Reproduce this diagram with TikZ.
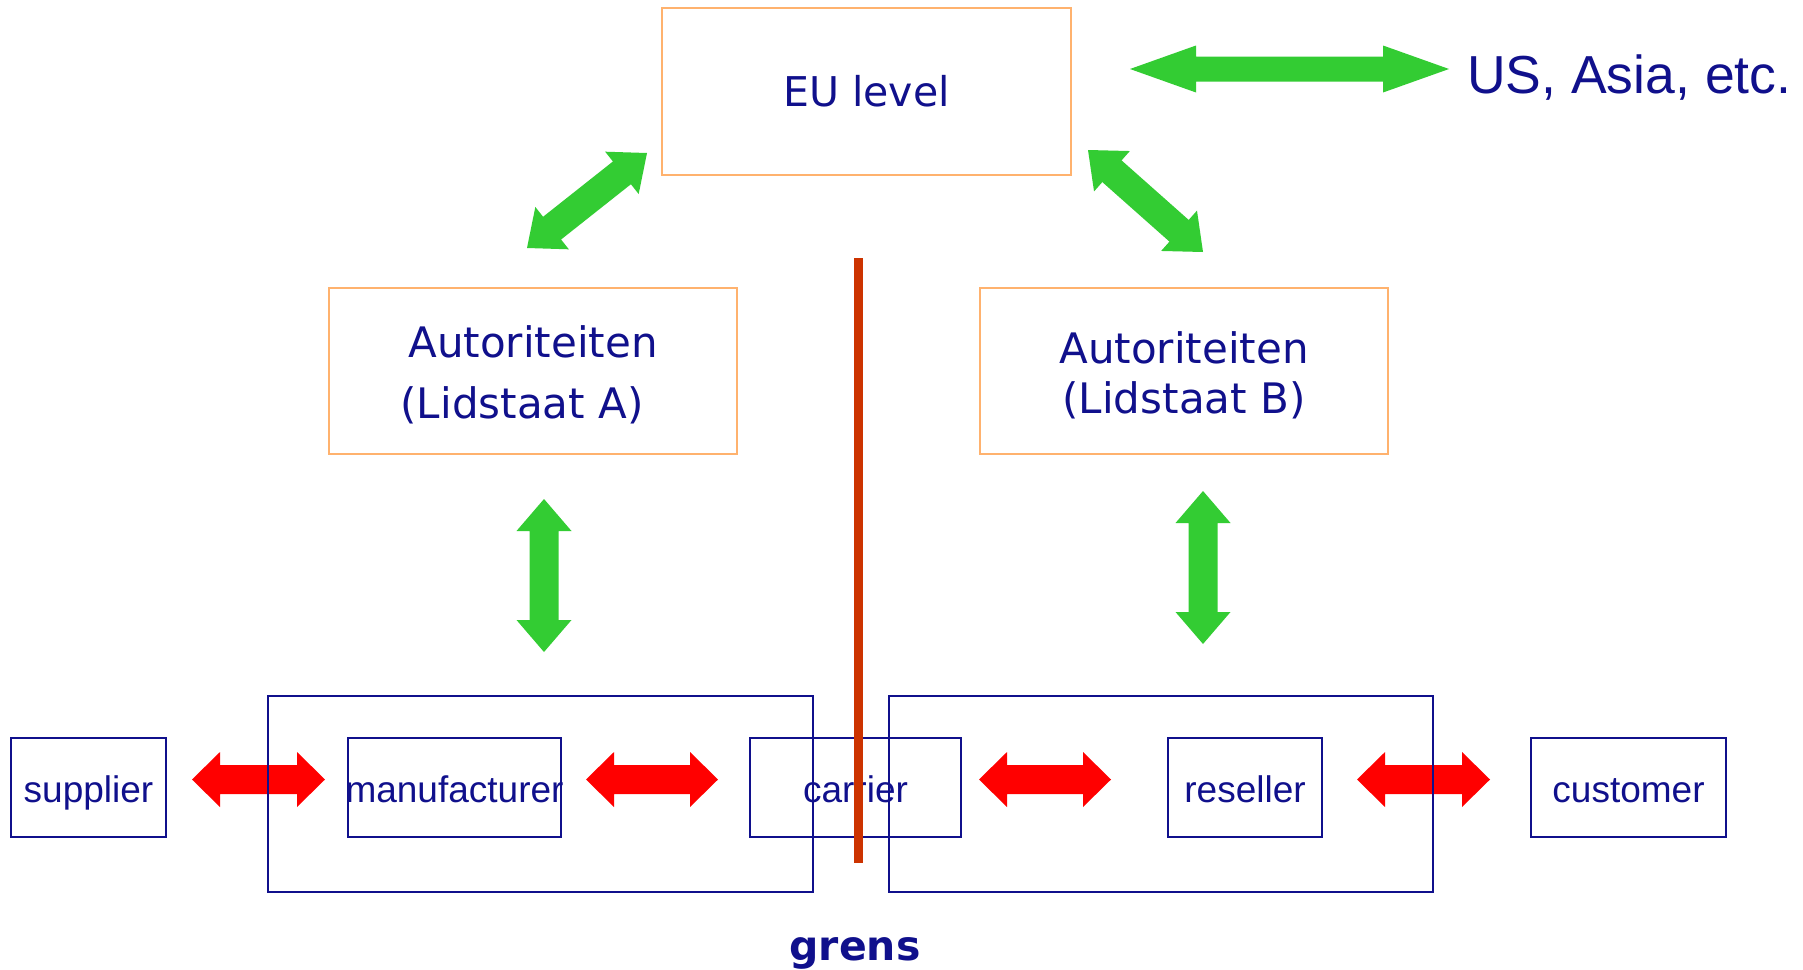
\documentclass[tikz,border=0pt]{standalone}
\usepackage{fontspec}
\setmainfont{Liberation Sans}
\newfontfamily\verdana{DejaVu Sans}
\usetikzlibrary{calc}
\definecolor{navy}{RGB}{16,16,140}
\definecolor{boxorange}{RGB}{255,178,110}
\definecolor{fatgreen}{RGB}{51,204,51}
\definecolor{fatred}{RGB}{255,0,0}
\definecolor{borderline}{RGB}{204,51,0}
% #1 from, #2 to, #3 shaft half width, #4 head half width, #5 head length, #6 colour
\newcommand\fatarrow[6]{%
  \fill[#6] (#1)
    -- ($(#1)!#5!(#2)!#4!90:(#2)$) -- ($(#1)!#5!(#2)!#3!90:(#2)$)
    -- ($(#2)!#5!(#1)!#3!-90:(#1)$) -- ($(#2)!#5!(#1)!#4!-90:(#1)$)
    -- (#2)
    -- ($(#2)!#5!(#1)!#4!90:(#1)$) -- ($(#2)!#5!(#1)!#3!90:(#1)$)
    -- ($(#1)!#5!(#2)!#3!-90:(#2)$) -- ($(#1)!#5!(#2)!#4!-90:(#2)$)
    -- cycle;}
\begin{document}
\begin{tikzpicture}[x=1pt,y=-1pt,
  authbox/.style={draw=boxorange, line width=2.5pt, text=navy,
    font=\verdana\fontsize{42pt}{50pt}\selectfont, align=center, inner sep=0pt},
  actor/.style={draw=navy, line width=2pt, text=navy,
    font=\fontsize{37pt}{44pt}\selectfont, minimum height=99pt, inner sep=0pt,
    text height=29pt, text depth=0pt},
  group/.style={draw=navy, line width=2pt, inner sep=0pt, minimum height=196pt},
  plain/.style={text=navy, inner sep=0pt}
]
\fill[white] (0,0) rectangle (1803,969);
\useasboundingbox (0,0) rectangle (1803,969);

% arrow end points
\coordinate (usA) at (1130,69);  \coordinate (usB) at (1449,69);
\coordinate (dA1) at (527,248);  \coordinate (dA2) at (647,153);
\coordinate (dB1) at (1088,150); \coordinate (dB2) at (1203,252);
\coordinate (vA1) at (544,499);  \coordinate (vA2) at (544,652);
\coordinate (vB1) at (1203,491); \coordinate (vB2) at (1203,644);
\coordinate (r1a) at (192,779.5);  \coordinate (r1b) at (325,779.5);
\coordinate (r2a) at (586,779.5);  \coordinate (r2b) at (718,779.5);
\coordinate (r3a) at (979,779.5);  \coordinate (r3b) at (1111,779.5);
\coordinate (r4a) at (1357,779.5); \coordinate (r4b) at (1490,779.5);
\coordinate (grensTop) at (858.5,258); \coordinate (grensBot) at (858.5,863);

% green arrows
\fatarrow{usA}{usB}{12.5pt}{23.5pt}{66pt}{fatgreen}
\fatarrow{dA1}{dA2}{14.5pt}{27pt}{32pt}{fatgreen}
\fatarrow{dB1}{dB2}{14.5pt}{27pt}{32pt}{fatgreen}
\fatarrow{vA1}{vA2}{14.5pt}{27.5pt}{32pt}{fatgreen}
\fatarrow{vB1}{vB2}{14.5pt}{27.5pt}{32pt}{fatgreen}
% red arrows
\fatarrow{r1a}{r1b}{14.5pt}{27.5pt}{28pt}{fatred}
\fatarrow{r2a}{r2b}{14.5pt}{27.5pt}{28pt}{fatred}
\fatarrow{r3a}{r3b}{14.5pt}{27.5pt}{28pt}{fatred}
\fatarrow{r4a}{r4b}{14.5pt}{27.5pt}{28pt}{fatred}

% authorities
\node[authbox, minimum width=409pt, minimum height=167pt,
      font=\verdana\fontsize{41pt}{49pt}\selectfont] (eu) at (866.5,91.5) {EU level};
\node[authbox, minimum width=408pt, minimum height=166pt] (authA) at (533,371)
  {\rule{0pt}{40pt}Autoriteiten\\[11pt]\hspace*{-22pt}(Lidstaat A)};
\node[authbox, minimum width=408pt, minimum height=166pt] (authB) at (1184,371)
  {\rule{0pt}{40pt}Autoriteiten\\(Lidstaat B)};

% actors
\node[actor, minimum width=155pt] (supplier) at (88.5,787.5) {supplier};
\node[actor, minimum width=213pt] (manufacturer) at (454.5,787.5) {\makebox[0pt]{manufacturer}};
\node[actor, minimum width=211pt] (carrier) at (855.5,787.5) {carrier};
\node[actor, minimum width=154pt] (reseller) at (1245,787.5) {reseller};
\node[actor, minimum width=195pt] (customer) at (1628.5,787.5) {customer};

% member state groups
\node[group, minimum width=545pt] (groupA) at (540.5,794) {};
\node[group, minimum width=544pt] (groupB) at (1161,794) {};

% border line
\draw[borderline, line width=8.5pt] (grensTop) -- (grensBot);

% free texts
\node[plain, anchor=base west, font=\fontsize{53.5pt}{60pt}\selectfont] (world) at (1467,93) {US, Asia, etc.};
\node[plain, anchor=base, font=\verdana\bfseries\fontsize{41pt}{49pt}\selectfont] (grens) at (855,960) {grens};
\end{tikzpicture}
\end{document}
